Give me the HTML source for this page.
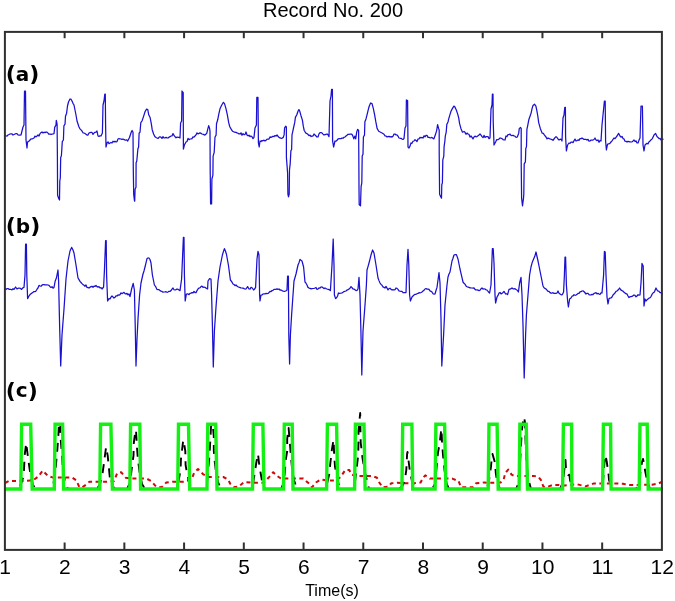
<!DOCTYPE html>
<html><head><meta charset="utf-8"><style>
html,body{margin:0;padding:0;background:#fff;}
svg{display:block;}
</style></head><body>
<svg width="675" height="601" viewBox="0 0 675 601">
<rect width="675" height="601" fill="#fff"/>
<g fill="none" stroke-linejoin="round">
<polyline points="5,135 6,135.97 7,136.09 8,135 9,134.55 10,134 11,133.76 12,133.85 13,135 14,134.52 15,134 16,133.57 17,133.59 18,135 19,135.15 20,135.1 21,135 22,131 23,127 24,125 24.5,91 25.5,91 26,140 27,148 27.5,142 28.75,141.41 30,140 31,138.81 32,139 33,138.45 34,138 35,136.12 36,136.9 37,135.99 38,135 39,136.04 40,133.65 41,132.64 42,132 43,132.92 44,132.15 45,132.68 46,132 47,132.23 48,133.16 49,134.27 50,134 51,134.52 52,134.1 53,134 54,133.7 54.7,127.4 56,125 56.3,120.3 57.1,124.2 57.4,157 57.6,195.3 58.7,198.5 59.5,200 59.8,181 60.3,178 60.7,157.4 61.4,155.8 62.3,141.6 63.4,140 63.9,125.8 65,124.2 65.5,116.3 66.6,113.2 67.5,106 68.5,102 70,99 71,99.19 72,101 73,103.33 74,105 75,110 76,115 77,121 78,124.06 79,127 80,128.87 81,129.83 82,131 83,132.82 84,133 85,133.46 86,134.15 87,135 88,135 89,132.98 90,132.6 91,132.4 92,132.42 93,134.39 94,133 95,132.26 96,132.16 97,131 98,136 99,136.46 100,135.79 101,136 102.4,133 103,105 104,101 104.8,94 105.3,94 105.6,125 106,147 107,143 108,141.84 109,143.72 110,143 111,142.44 112,143.04 113,141.27 114,142 115,141.17 116,141.94 117,141.57 118,139.02 119,138.5 120,139 121,138.97 122,139.55 123,139 124.17,139.62 125.35,140.23 126.53,139.76 127.7,141 129.5,137.5 131.2,132.3 132.1,130.5 133,132.3 133.3,169.8 133.7,194.2 134.4,200.3 134.7,201.2 135.1,189 136,187.3 136.1,162.8 136.8,161 137.9,148.9 138.6,147.1 139.1,133.2 140,132.3 140.8,122.7 142,121 143.5,116.6 145.2,111.3 146.6,109.1 147.8,109.6 148.7,114.8 150.1,117.5 151.3,123.6 152.2,129.7 153.6,134 154.8,136.6 156,137.5 157,138 158,138.46 159,137.36 160,136.67 161,137.24 162,138.45 163,136.64 164,138 165,137.93 166,137.26 167,137.9 168,138 169,137.15 170,136.68 171,136 172,135.93 173,133.6 174,135.42 175,136.6 176,137.87 177,137.03 178,137.4 179,137.34 180,138 180.6,123 181.6,121 182,91 183.2,92.6 183.4,149 184.4,145 186,142 187,141.53 188,138.37 189,139.72 190,139 191,138.92 192,138.6 193,136.81 194,137.21 195,136 196,134.93 197,132.86 198,133.89 199,133.4 200,132.87 201,133.41 202,134 203.45,134.44 204.9,135.1 206.8,133.2 207.7,129.4 208.7,125.6 209.6,128.4 210,131.3 210.2,171.4 210.6,203.9 211.6,203.9 211.9,179 212.9,175.2 213.1,156.1 214.2,152.3 215,137 216.1,135.1 216.5,123.7 217.7,119.8 218.8,114.1 220.1,108.4 221.5,105.5 223.4,102.3 224.5,103.6 225.9,108.4 227.2,114.1 228.7,122.7 229.7,126.49 230.7,128.4 232.6,131.3 234.5,132.2 236,132.4 237,132.88 238,133.18 239,133.89 240,134 241,132.79 242,135.23 243,133.64 244,134.6 245,134.6 246,132 247,135 248,135.86 249,135.22 250,136.6 251,136.07 252,136.7 253,138.62 254,137.4 255,128 256.4,125 256.8,97.4 258,97.4 258.4,143 259.2,147 260,141 261,141.52 262,140.55 263,140.79 264,140.14 265,141 266,140.31 267,139.24 268,139 269,139.01 270,136.92 271,137.4 272,136.88 273,136.24 274,136.6 275,135.53 276,136.07 277,135 278,136.29 279,137.4 280,137.84 281,138.29 282,138.26 283,137.4 283.2,137.5 284.1,134.9 284.6,127.9 285.8,126.2 286.4,127 286.4,157.5 287.1,166.3 287.6,173.2 287.9,194.2 288.5,196.8 289.2,194.2 289.5,169.7 290.2,163.6 290.9,150.6 291.6,149.7 292,134.9 292.8,131.4 293.7,127 294.7,122.7 295.4,117.4 296.8,114.8 298,111.3 298.9,109.6 299.8,111.3 301,115.7 302.4,120.1 303.3,126.2 304.2,130.5 305.9,133.1 307.6,134 309,135.7 310.05,135.12 311.1,136.6 312,136 313,136.07 314,134.01 315,135 316,135.95 317,137 318,136.97 319,133.92 320,132.6 321,132.52 322,133 323,134.13 324,135 325,134.68 326,134.35 327,134 328,134.73 329,136.6 330,101 331,96 331.6,89.4 332.4,89.4 332.6,141 333.6,147 335,141 336,141.14 337,140.33 338,139 339,138.59 340,138.74 341,138.74 342,138 343,138.27 344,137.29 345,137.02 346,136 347,135.35 348,134.3 349,134.28 350,134.2 351.9,134.2 352.9,136.1 353.8,138.9 354.8,136.1 355.7,138.9 356.7,132.2 357.6,129.4 358.6,130.3 358.8,152.3 359,188.6 359.2,204.8 360.5,205.8 361.1,186.7 361.8,182.9 362.2,156.1 363,154.2 363.4,137 364.5,135.1 364.9,121.7 366,118.9 367.2,114.1 368.1,110.3 369.1,106.5 370.6,103 372,103.6 373.3,108.4 374.5,114.1 375.8,121.7 377.1,128.4 378.7,131.3 380.6,132.2 382.5,133.2 384,134.2 385,135.86 386,136 387,136.98 388,136.61 389,136.32 390,137 391,136.63 392,137.05 393,136.22 394,134.09 395,134 396,134.97 397,134.91 398,136.15 399,138 400,138.26 401,138.26 402,139.08 403,139.43 404,138.6 405,128 406,126 406.4,100 407.6,100.6 408,147 409,148 410,146.13 411,143 412,143.32 413,141.26 414,141 415,139.65 416,140.38 417,141.51 418,139 419,138.87 420,137.34 421,137.98 422,137.4 423,138.07 424,135.82 425,136.8 426,135.34 427,135.4 428,137.35 429,137.4 430.45,137.99 431.9,137.4 433.8,138.9 435.3,135.1 436.7,130.3 437.6,124.6 438.6,128.4 439.2,130.3 439.2,152.3 439.6,194.3 440.5,196.2 441.5,198.2 441.8,184.8 442.4,182.9 442.8,159.9 443.8,156.1 444.1,146.6 444.9,140.8 445.3,136.1 446.2,132.2 446.8,124.6 448.1,121.7 448.7,118.9 450.1,114.1 451,111.2 452.5,108.4 453.9,106.1 454.8,106.8 456.4,110.3 457.7,114.1 458.7,117.9 459.6,123.7 460.9,128.4 462.5,132.2 464,131.5 465,132.35 466,134.25 467,133.07 468,134 469,134.34 470,137.09 471,135.89 472,137.4 473,138.89 474,137.05 475,136.14 476,136.76 477,136.6 478,135.83 479,135.02 480,134 481,135.16 482,136.6 483,137.68 484,135.39 485,137.4 486,136.72 487,136.67 488,136.6 489,138.66 490,138 491,109 492,105 492.4,94 493,94 493.2,121 494,145 495.6,142 496.73,139.51 497.87,139.75 499,139 500,138.01 501,138.23 502,138.6 503,139.55 504,139.84 505,140 506,136 507,136.58 508,134.55 509,134.7 510,134 511,135.38 512,135.68 513,135.25 514,136 514.9,136.1 516.1,137.4 517.3,137 518.7,133.2 519.3,128.4 520.6,127.5 521.2,128.4 521.2,161.9 521.6,198.2 522.5,205.8 523.5,198.2 523.8,194.3 524.2,163.8 525.4,161.9 525.8,148.5 526.5,146.6 526.9,129.4 527.7,125.6 528.8,119.8 530.1,116 531.1,113.1 532.1,108.4 533,105.5 534.5,104.2 535.9,106.1 536.8,110.3 537.8,116 538.7,122.7 540.3,128.4 542.2,133.2 543.35,133.46 544.5,135.1 546,137 547,138.85 548,138.12 549,138.42 550,139 551,139.2 552,139.64 553,140.31 554,139 555,137.69 556,136.6 557,137.52 558,139 559,139.94 560,139.35 561,139.23 562,141 563,118 564,115 564.8,107.4 565.4,107.4 565.6,137 566.4,151 567.6,145 569,143 570,143.29 571,142.05 572,142 573,142.6 574,140.73 575,139.08 576,141 577,140.61 578,139.92 579,140.4 580,138.6 581,138.69 582,138 583,138.7 584,139.37 585,139.4 586,139.44 587,140.1 588,139.35 589,141.07 590,141 591,140.06 592,140 593,140 594,139.52 595,138 596,139.99 597,140.6 598,139.94 599,142.3 600,140.46 601,141 602,125 603,115 604.4,101 605.2,101 605.6,141 606.4,150 607.6,144 608.73,143.96 609.87,143.38 611,142 612,140.83 613,139.46 614,138 615,138.68 616,137.33 617,136 618.6,133.4 620,136 621,137.2 622,136.37 623,138.6 624,138.89 625,141.17 626,141.3 627,142 628,141.28 629,141.52 630,141.77 631,142 632,141.85 633,140.96 634,140 635,141.5 636,140.89 637,142.99 638,143 639,140.12 640,138 641,106 642.4,106 643,145 644,151 645,145 646,143.98 647,143.4 648,143.9 649,141.86 650,141 651.2,139.7 652.4,138.6 654,135 655.6,133.4 657,136.6 658,137.44 659,138.6 660,138.44 661,140.04 662,139 663.5,139.4" stroke="#1a10d0" stroke-width="1.25"/>
<polyline points="5,288 6,289.47 7,288.6 8,288.54 9,289.33 10,289.4 11,289.47 12,289.82 13,288.7 14,289.4 15.6,287 17,289 18,288.29 19,288 20.3,288.32 21.6,289.4 22.8,287.86 24,287.4 25,275 25.6,244 26.4,244 26.8,275 27.6,298.6 29,296 30,294.58 31,293.74 32,293 33,292.36 34,291.55 35,291.71 36,291 37,289.23 38,288 39,285.4 40,286 41,286.25 42,285.1 43,284.58 44,284.6 45,284.83 46,284.91 47,284.93 48,285 49,285.37 50,286.7 51,287.4 52,286.63 53,288.12 54,287.4 55.2,281 56.4,278 58,270 58.6,281 59.6,325 60.7,366 62,335 63,322 64,309 65,294 66,279 67,270 68,261 69,256 70,251 71.6,247.4 72.8,249.57 74,253 75,259 76,265 77,271.5 78,278 79,279.6 80,281.4 81,282.48 82,283.64 83,284.6 84,285.18 85,286.24 86,284.88 87,287.4 88,287.58 89,288 90,287.16 91,286.6 92,286.32 93,287.3 94,286.05 95,286.49 96,285.52 97,286.6 98,287.14 99,286.65 100,288 101,287.65 102,289 103.6,287 104.4,271 105.6,240.6 106.2,240.6 106.6,275 107.6,301 109,298.6 110,298.85 111,297.15 112,296 113,296.93 114,298 115,297.35 116,295.87 117,296 118,294.94 119,295.21 120,294.6 121,292.93 122,293.6 123,293 124,292.39 125,293.66 126,294 127,293.37 128,294.82 129,294 130,296.6 131.6,289 133.2,283.4 134.4,290 135.2,325 136,366 137,339 138,319 139.6,295 141,283 142,278.5 143,274 144,270.95 145,267 146,262.8 147,258.6 148,257.97 149,258 150,259.48 151,263 152.4,275 153.4,280 154.4,285 155.7,286.74 157,289.4 158,289.71 159,289.63 160,290.6 161,291.08 162,291.4 163,292.14 164,292 165,291.91 166,291.71 167,292.33 168,292 169,291.32 170,291.43 171,290.6 172,289.07 173,288 174,289.75 175,290 176,289.59 177,289 178,289.4 179,289.98 180,290.6 181.6,279 183.4,237.4 184,237.4 184.4,275 185.2,301 186.4,294 187.7,293.91 189,294.6 190,293.39 191,293.14 192,292.6 193,292.92 194,291.44 195,292.51 196,292.6 197,290.66 198,289 199,288.06 200,287.74 201,286.6 202,286.07 203,287.27 204,287.02 205,287.4 206.3,288.19 207.6,289 208,281 209.6,278.6 211,279 211.6,295 212.4,325 213.3,367 214.4,331 216,307 217,294 218,281 219,274 220,267 221.2,261 222.4,255 223.4,251.63 224.4,248.6 225.4,251.07 226.4,254 227.4,259.5 228.4,265 229.4,272.5 230.4,280 231.7,281.67 233,284 234,284.48 235,285.68 236,285 237.2,286.28 238.4,286.98 239.6,287.4 240.8,287.93 242,288 243,288 244,288.6 245,289.05 246,289 247.6,286.6 249,289 250,289.2 251,287.4 252.3,288 253.6,290 254.6,289.07 255.6,287.4 257,259 258,251.4 259,255 259.6,295 260,301 261,295 262,294.96 263,294 264,293.89 265,293.95 266,293.4 267,293.56 268,293.48 269,292.52 270,291.4 271,291.7 272,290.53 273,290.28 274,289.4 275,289.37 276,289.35 277,288.89 278,289.39 279,289 280,290.23 281,289.95 282,290.6 283.2,291.1 284.4,291.4 285.7,290.99 287,290 287.6,276 288.4,276 288.8,335 289.6,364 290.4,335 291.6,315 293,295 294,281 295,277.48 296,274 297,269.5 298,265 299,262.65 300,259.4 301,260.3 302,261 303.6,267 305,282 306,283.18 307,285.05 308,287.4 309,288.04 310,288.3 311,288.84 312,288.6 313,288.5 314,288.28 315,288 316,287.52 317,289.35 318,289 319,287.85 320,288.17 321,287 322,286.94 323,287.71 324,288.6 325,288 326,288.56 327,289 328.13,289.3 329.27,289.7 330.4,290.6 332,265 333.2,239 334,265 334.4,295 335.6,298.6 336.6,297.74 337.6,296 338.4,293 339.6,293.33 340.8,293.18 342,293 343,292.32 344,291.57 345,291.25 346,291 347,290.06 348,289.64 349,289 350,288.17 351,286.6 352,287.7 353,289 354,289.12 355,289.74 356,290.6 357,290.43 358,289 359,277.4 360,295 361,335 361.8,375 363,331 364,318 365,305 366.4,285 367,270 368,266.57 369,263 370,259.11 371,255 372.6,250 374,253 375,259 376,265 377,271.5 378,278 379,280.63 380,283 381,284.39 382,285.26 383,286.88 384,287.4 385,288.04 386,286.45 387,288.05 388,289.84 389,288.6 390,288.23 391,289.22 392,289.98 393,289.72 394,290 395,289.67 396,288 397,288.36 398,289.37 399,291 400,291.22 401,291.27 402,291.42 403,292.56 404,292.6 405,292.73 406,292.6 407,265 408,249.4 408.8,265 409.6,295 410.4,301 412,297 413,296 414,295 415,294.4 416,294.33 417,293.74 418,293.4 419,292.68 420,292.96 421,292.54 422,292 423,291.04 424,290.35 425,289 426,288.55 427,289.13 428,289.04 429,289.4 430,290.93 431,291.39 432,292 433,293.73 434,294.12 435,294 436,290.51 437,287.4 438,280 439,272.6 440,283 441,319 441.8,366 443.6,335 445,305 446,295 447,285 448,277 449,273.95 450,272 451,266.5 452,261 453,258.24 454,255 455.2,254.66 456.4,254.6 458,259 459,264 460,269 461,273.33 462,277.67 463,282 464,283.25 465,284.14 466,286 467,286.77 468,287.03 469,287.4 470,287.8 471,287.96 472,288 473,288.05 474,287.88 475,289.36 476,290 477,289.88 478,290.14 479,290.6 480,290.21 481,288.82 482,288 483,289.09 484,288.76 485,289 486,289.84 487,290 488.3,291.75 489.6,293 491,285 492.4,248.6 493.2,248.6 494,263 495,295 495.6,303 497,297 498,295.4 499,293 500,292.5 501,293.81 502,293.4 503,292.45 504,291.4 505.6,294 506.6,293.81 507.6,294.6 509,289.4 510,289.24 511,288.64 512,288 513,288.84 514,288.77 515,288.6 516,289.48 517,290 518.4,292 519.6,283 521,277.4 522,295 523,325 524.2,378 525.6,335 526.4,315 528,295 529.6,275 531,267 532.3,262.18 533.6,259 534.8,256.34 536,252 537,256.5 538,261 539,266 540,271 541,276 542,281 543,286 544,287.74 545,288.39 546,289 547,290.13 548,291.41 549,291.27 550,292.6 551,293.15 552,293.01 553,292.7 554,293.4 555,293.45 556,293.31 557,293 558,291 559,293.35 560,294 561.2,294.77 562.4,294.6 563.6,292 564.4,275 565,257 565.6,257 566.4,285 567.6,301 568.4,307 569.6,299 571,298 572,296.2 573,296 574,294.69 575,295.29 576,295 577,294.36 578,293.47 579,293.4 580,291.87 581,291.7 582,291 583.2,290.92 584.4,292 586,294 587,293.35 588,293.4 589,294.63 590,295 591,294.99 592,294.36 593,294.6 594,293.37 595,293.17 596,292.6 597,293.93 598,293.28 599,294 600,294.53 601,292.94 602,293 603.6,275 604.4,251.4 605.2,252 606,275 607,297 608,304 609,298.6 610,298.19 611,298 612,297.01 613,294.95 614,294 615,293.03 616,291.32 617,291 618.3,289.83 619.6,288 620.8,289.88 622,290.6 623,291.07 624,292.29 625,293 626,293.8 627,293.92 628,296 629,297.57 630,296.71 631,296.6 632,296.48 633,295.73 634,295 635,295.42 636,296.85 637,296 638,294.75 639,295.18 640,295 641,283 642,263.4 643.2,266 644,306 645,299 646,301 647,299.79 648,299 649,298.1 650,297.75 651,296.6 652,294.44 653,293 654.4,292 656,288 657.6,291 658.8,291.14 660,292.6 661,292.5 662,293.76 663,294" stroke="#1a10d0" stroke-width="1.25"/>
<polyline points="5,483 9,481 22.5,481 33,480.4 38.2,476.6 42.7,470.6 47.9,475.9 52.4,477.4 71.9,477.4 76.3,480.4 79.3,487 82,487.5 84.7,485.7 89.5,481.7 110,481.7 114,481 117.2,473 121.1,472.2 125.9,477.8 132.2,478.6 146.5,478.6 151.2,481 156,486.5 161.6,487.3 166.3,482.5 172.7,481.7 183.7,481.7 191.6,479.4 194,473 198,469 202.7,473.8 207.5,477 223.3,477 228,479.4 230.4,484 234.4,487.3 239,486.5 244,482 252.7,482.8 263.7,482.8 268.5,477.8 273.2,472.2 276.4,475.4 281,478.6 303.3,478.6 309.6,484.1 312,487.3 316,482.5 320.7,479.4 327.9,480.6 335.8,480.6 340.6,477 345.3,470 349.3,470 351.6,474.6 356.4,475.9 372.2,475.9 377,477.8 379.3,482.5 382.5,487.3 388.8,486.5 391.2,483.3 397.5,482.8 403.2,483.3 412.7,483.3 420.6,482.5 423,477.8 425.3,475.4 430,478.6 452.2,478.6 458.5,481 461,487.3 472.8,487.3 476,483.3 484,482.5 489.5,482.8 500.6,482.5 503.7,479.4 505.3,473 508.2,469.6 511.6,474.6 514,475.9 533.8,475.9 538.5,477 541,480.2 543.3,486.5 546.5,487.3 552.8,484.9 559,484.9 562.3,485.7 577,484.2 585.6,486.4 594,483.4 616.2,483.4 623,483.7 628.1,485 638.4,485 652,484.7 658,483.7 662.2,481.7" stroke="#cc0a0a" stroke-width="2" stroke-dasharray="4 3.5"/>
<polyline points="5,489 17,489 19,487 21,484 23,478 24,470 24.7,455 26.2,443 27.7,455 29.2,466 31,478 33,485 36,489 50,489 51.4,487 53.5,483.5 55.5,470 57.3,450 58.4,435 58.8,426 60.3,422 60.6,438 61.7,452 63,470 65,482 68,489 97,489 100,484 102.2,476 103.7,465 105,455 106.1,447 107.7,455.6 108.8,466.7 110,479.4 112,485 115,489 127,489 130,483 132.2,465 133.5,455.6 133.8,443 135.4,431 136,430 137,447.7 137.8,458 139.5,472 142,484 145,489 175,489 178,484 180.6,470 180.9,459.6 183,442 183.5,440 185.3,451 185.6,465 187,473 189,482 192,489 204,489 207,483 209.5,455 210.6,435 211,426.4 212,424 213,427 213.8,436.6 213.8,451 214.6,460.4 216,472 218,482 221,489 250,489 253,484 255.8,466 257.4,455.6 258,454 259,462.8 260.6,473 262,481 265,489 281,489 284,482 285.9,458.8 287.2,451 287.2,439 288.3,429.5 288.6,428 289.8,442 290.6,452.5 292,468 294,480 297,489 324,489 327,484 329.5,473 330.3,463.5 331.9,449.3 333.4,440.6 333.6,440 334.2,455.6 335,466.7 337,478 340,489 352,489 355,482 357.3,462.7 358.2,455 358.5,441 358.5,430.5 360,415 360.2,413 360.3,420 360.5,432 360.7,442.5 362.5,458 364.5,470 366,477 367.5,481.5 368.2,486.7 370,489 399,489 402.4,486 404.7,481 406.3,470 407.1,454 407.5,452 408.7,462 410,472 412,481 415,489 432,489 435,484 438,452.5 439.6,443.8 441.1,431 441.5,429 442,441.4 443,455 444.5,470 446.7,484 449,489 485,489 488.5,484 491,466.7 491.9,455.6 492.5,454 495,462.8 495.8,473 497,481 500,489 516,489 519,482 520.5,455 521.5,436 522.4,425.6 524,417 525,422.4 525.5,440 526.5,462 528,478 531,489 560,489 563,482 564.5,468 565,462 565.5,460 566,469.7 568.3,475 569.4,474.8 570,480 572,486 575,489 600,489 603,482 604.5,462 605.1,457 605.5,455 606.8,462 608.6,474.8 609,480 611,486 614,489 636,489 639,483 640,480 640.3,473 642,462 643,459 643.5,461.2 645.2,471.4 647,480 650,489 663,489" stroke="#000" stroke-width="1.9" stroke-dasharray="9 7"/>
<polyline points="5,489 20.8,489 21.6,424.3 30.7,424.3 32.2,489 54.3,489 55.1,424.3 62.6,424.3 63.6,489 99.8,489 100.6,424.3 110.9,424.3 112.4,489 129.8,489 130.6,424.3 139.8,424.3 140.6,489 177.7,489 178.5,424.3 188.5,424.3 189.7,489 207,489 207.8,424.3 215.7,424.3 217,489 252.5,489 253.3,424.3 262.9,424.3 264,489 283.5,489 284.3,424.3 292.2,424.3 293,489 326.6,489 327.4,424.3 336.6,424.3 337.7,489 354.6,489 355.4,424.3 364,424.3 365.1,489 401.9,489 402.7,424.3 411.9,424.3 412.7,489 435.1,489 435.9,424.3 444.6,424.3 445.9,489 488.2,489 489,424.3 497.1,424.3 498.2,489 519.1,489 519.9,424.3 526.2,424.3 527.5,489 562.6,489 563.4,424.3 571.6,424.3 571.9,489 602.6,489 603.4,424.3 610.6,424.3 611.1,489 639.2,489 640,424.3 647.2,424.3 648.2,489 663,489" stroke="#14f014" stroke-width="3.4" stroke-linejoin="miter"/>
</g>
<g stroke="#303030" stroke-width="2" fill="none">
<rect x="4.9" y="31.9" width="657.00" height="518.00"/>
<line x1="64.63" y1="31.9" x2="64.63" y2="38.199999999999996"/><line x1="64.63" y1="549.9" x2="64.63" y2="542.5"/><line x1="124.35" y1="31.9" x2="124.35" y2="38.199999999999996"/><line x1="124.35" y1="549.9" x2="124.35" y2="542.5"/><line x1="184.08" y1="31.9" x2="184.08" y2="38.199999999999996"/><line x1="184.08" y1="549.9" x2="184.08" y2="542.5"/><line x1="243.81" y1="31.9" x2="243.81" y2="38.199999999999996"/><line x1="243.81" y1="549.9" x2="243.81" y2="542.5"/><line x1="303.54" y1="31.9" x2="303.54" y2="38.199999999999996"/><line x1="303.54" y1="549.9" x2="303.54" y2="542.5"/><line x1="363.26" y1="31.9" x2="363.26" y2="38.199999999999996"/><line x1="363.26" y1="549.9" x2="363.26" y2="542.5"/><line x1="422.99" y1="31.9" x2="422.99" y2="38.199999999999996"/><line x1="422.99" y1="549.9" x2="422.99" y2="542.5"/><line x1="482.72" y1="31.9" x2="482.72" y2="38.199999999999996"/><line x1="482.72" y1="549.9" x2="482.72" y2="542.5"/><line x1="542.45" y1="31.9" x2="542.45" y2="38.199999999999996"/><line x1="542.45" y1="549.9" x2="542.45" y2="542.5"/><line x1="602.17" y1="31.9" x2="602.17" y2="38.199999999999996"/><line x1="602.17" y1="549.9" x2="602.17" y2="542.5"/>
</g>
<g font-family="&quot;Liberation Sans&quot;, sans-serif" font-size="20" fill="#000" text-anchor="middle">
<text x="333" y="17">Record No. 200</text>
<text x="5.20" y="574.3" font-size="21">1</text><text x="64.93" y="574.3" font-size="21">2</text><text x="124.65" y="574.3" font-size="21">3</text><text x="184.38" y="574.3" font-size="21">4</text><text x="244.11" y="574.3" font-size="21">5</text><text x="303.84" y="574.3" font-size="21">6</text><text x="363.56" y="574.3" font-size="21">7</text><text x="423.29" y="574.3" font-size="21">8</text><text x="483.02" y="574.3" font-size="21">9</text><text x="542.75" y="574.3" font-size="21">10</text><text x="602.47" y="574.3" font-size="21">11</text><text x="662.20" y="574.3" font-size="21">12</text>
<text x="332" y="595.5" font-size="16">Time(s)</text>
</g>
<g font-family="&quot;DejaVu Sans&quot;, sans-serif" font-weight="bold" font-size="20" fill="#000">
<text x="5.8" y="81"><tspan font-size="22" dy="0.4">(</tspan><tspan dy="-0.4">a</tspan><tspan font-size="22" dy="0.4">)</tspan></text>
<text x="5.8" y="232.9"><tspan font-size="22" dy="0.4">(</tspan><tspan dy="-0.4">b</tspan><tspan font-size="22" dy="0.4">)</tspan></text>
<text x="5.8" y="397.4"><tspan font-size="22" dy="0.4">(</tspan><tspan dy="-0.4">c</tspan><tspan font-size="22" dy="0.4">)</tspan></text>
</g>
</svg>
</body></html>
